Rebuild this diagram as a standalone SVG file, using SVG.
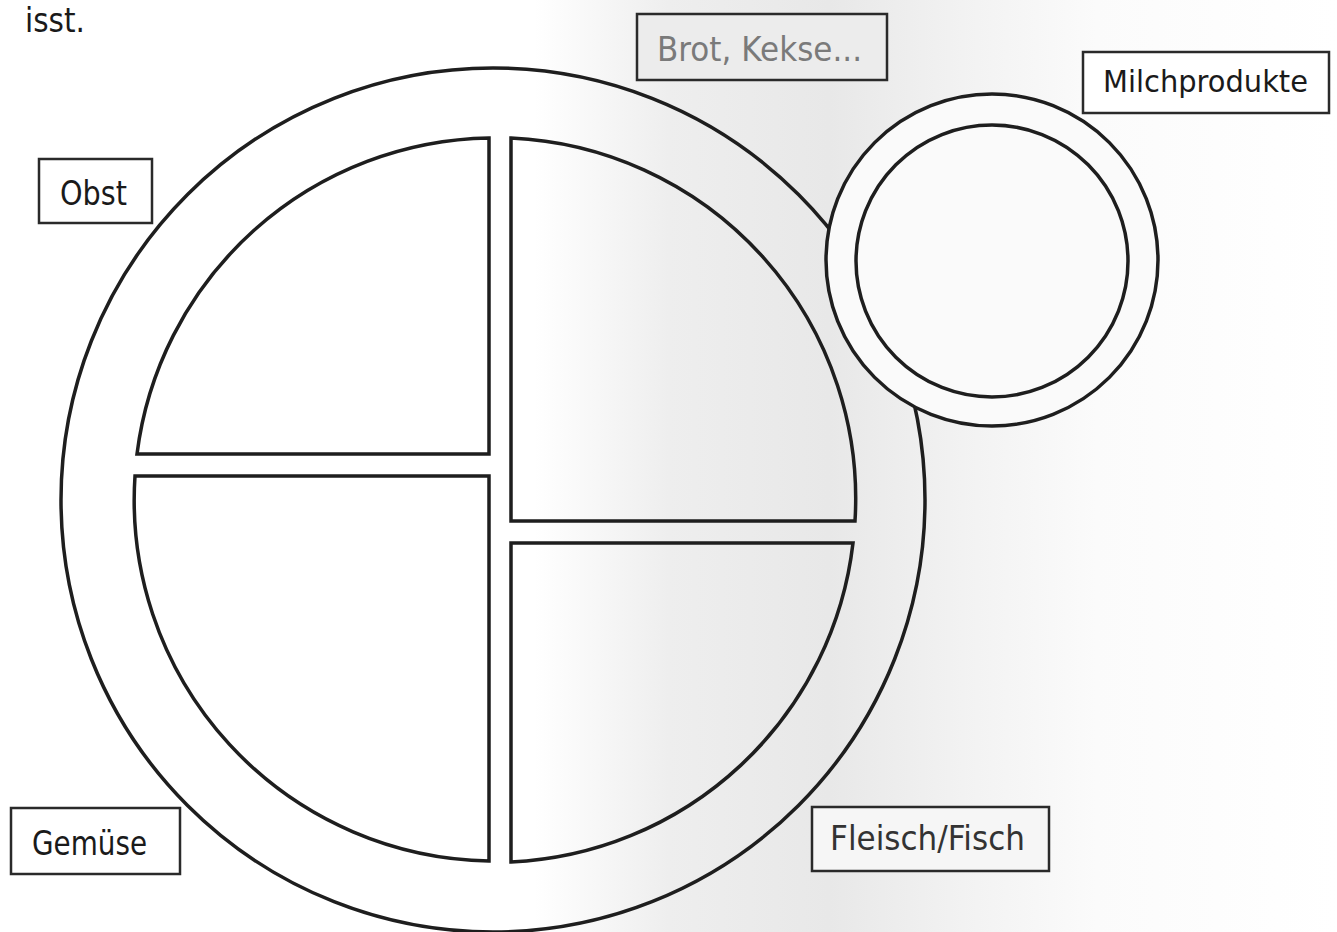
<svg xmlns="http://www.w3.org/2000/svg" width="1337" height="932" viewBox="0 0 1337 932">
<defs>
<linearGradient id="bg" x1="0" y1="0" x2="1337" y2="0" gradientUnits="userSpaceOnUse">
<stop offset="0" stop-color="#ffffff"/>
<stop offset="0.40" stop-color="#ffffff"/>
<stop offset="0.50" stop-color="#eeeeee"/>
<stop offset="0.62" stop-color="#e8e8e8"/>
<stop offset="0.72" stop-color="#f2f2f2"/>
<stop offset="0.82" stop-color="#fbfbfb"/>
<stop offset="1" stop-color="#ffffff"/>
</linearGradient>
<style>
.ln{fill:none;stroke:#1e1e1e;stroke-width:3.5;stroke-linejoin:miter}
.box{stroke:#2a2a2a;stroke-width:2.5}
.t{font-family:"DejaVu Sans","Liberation Sans",sans-serif;font-size:34px;fill:#1a1a1a}
</style>
</defs>
<rect x="0" y="0" width="1337" height="932" fill="url(#bg)"/>
<g id="plate">
<circle class="ln" cx="493" cy="500" r="432"/>
</g>
<g id="quadrants">
<path class="ln" d="M489,138 L489,454 L137,454 A361,361 0 0 1 489,138 Z"/>
<path class="ln" d="M511,138 L511,521 L855,521 A361,361 0 0 0 511,138 Z"/>
<path class="ln" d="M489,476 L489,861 A361,361 0 0 1 135,476 Z"/>
<path class="ln" d="M511,543 L853,543 A361,361 0 0 1 511,862 Z"/>
</g>
<g id="cup">
<circle cx="992" cy="260" r="166" fill="#fafafa" stroke="#1e1e1e" stroke-width="3.5"/>
<circle class="ln" cx="992" cy="261" r="136"/>
</g>
<g id="label-isst">
<text class="t" x="25" y="32" font-size="28" textLength="60" lengthAdjust="spacingAndGlyphs">isst.</text>
</g>
<g id="label-brot">
<rect class="box" x="637" y="14" width="250" height="66" fill="#ececec"/>
<text class="t" x="657" y="61" style="fill:#7a7a7a" textLength="205" lengthAdjust="spacingAndGlyphs">Brot, Kekse...</text>
</g>
<g id="label-milch">
<rect class="box" x="1083" y="52" width="246" height="61" fill="#ffffff"/>
<text class="t" x="1103" y="92" style="font-size:31px" textLength="205" lengthAdjust="spacingAndGlyphs">Milchprodukte</text>
</g>
<g id="label-obst">
<rect class="box" x="39" y="159" width="113" height="64" fill="#ffffff"/>
<text class="t" x="60" y="205" textLength="67" lengthAdjust="spacingAndGlyphs">Obst</text>
</g>
<g id="label-gemuese">
<rect class="box" x="11" y="808" width="169" height="66" fill="#ffffff"/>
<text class="t" x="32" y="855" textLength="115" lengthAdjust="spacingAndGlyphs">Gemüse</text>
</g>
<g id="label-fleisch">
<rect class="box" x="812" y="807" width="237" height="64" fill="#f6f6f6"/>
<text class="t" x="830" y="850" style="fill:#333" textLength="195" lengthAdjust="spacingAndGlyphs">Fleisch/Fisch</text>
</g>
<g id="connectors"></g>
</svg>
